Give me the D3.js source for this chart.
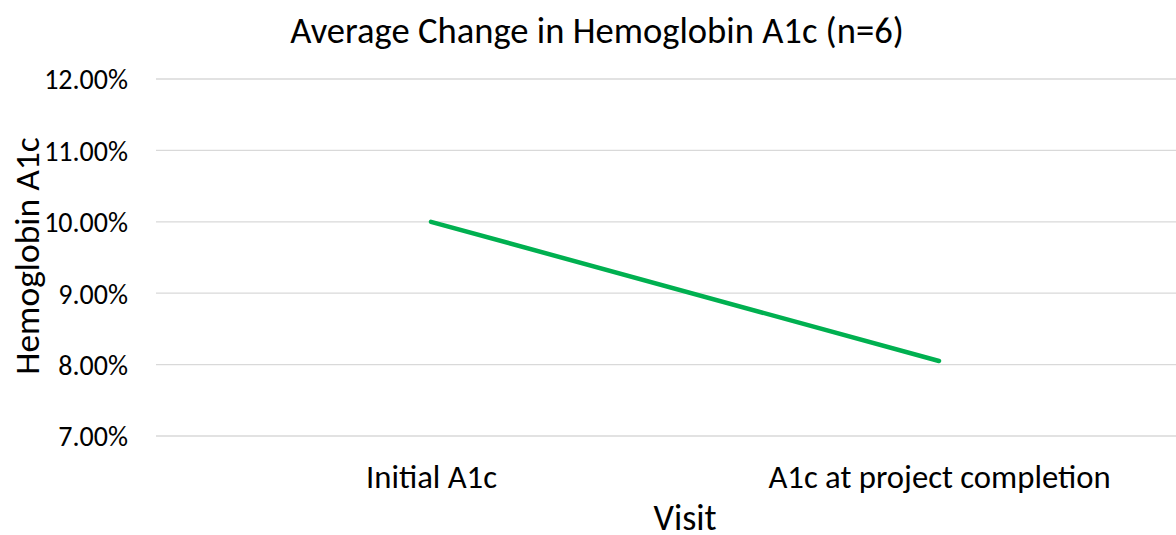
<!DOCTYPE html>
<html>
<head>
<meta charset="utf-8">
<script src="https://cdn.jsdelivr.net/npm/d3@7"></script>
<style>
  body { margin: 0; background: #fff; }
  svg { display: block; }
  text { font-family: Carlito, Lato, "Liberation Sans", sans-serif; fill: #000; }
  .grid line { stroke: #d9d9d9; stroke-width: 1.3; }
</style>
</head>
<body>
<svg id="chart"></svg>
<script>
// Chart data
var categories = ["Initial A1c", "A1c at project completion"];
var values = [10.00, 8.05];
var yTicks = [7, 8, 9, 10, 11, 12];

var width = 1176, height = 535;
var plot = {left: 156, right: 1176, top: 79, bottom: 436};

var svg = d3.select("#chart")
    .attr("width", width)
    .attr("height", height);

// Scales
var x = d3.scalePoint()
    .domain(categories)
    .range([177, 1193])
    .padding(0.5);
var y = d3.scaleLinear()
    .domain([7, 12])
    .range([plot.bottom, plot.top]);

// Gridlines
svg.append("g")
    .attr("class", "grid")
    .selectAll("line")
    .data(yTicks)
    .enter()
    .append("line")
    .attr("x1", plot.left)
    .attr("x2", plot.right)
    .attr("y1", function(d) { return y(d); })
    .attr("y2", function(d) { return y(d); });

// Y axis labels
var y_axis = d3.axisLeft(y)
    .tickValues(yTicks)
    .tickSize(0)
    .tickPadding(0)
    .tickFormat(function(d) { return d.toFixed(2) + "%"; });
var gy = svg.append("g")
    .attr("transform", "translate(128,0)")
    .call(y_axis);
gy.attr("font-family", null);
gy.select(".domain").remove();
gy.selectAll("text").attr("font-size", 28).attr("dy", "0.35em");

// X axis labels
var x_axis = d3.axisBottom(x).tickSize(0).tickPadding(0);
var gx = svg.append("g")
    .attr("transform", "translate(0,488)")
    .call(x_axis);
gx.attr("font-family", null);
gx.select(".domain").remove();
gx.selectAll("text").attr("font-size", 32.7).attr("dy", null);

// Line
var valueline = d3.line()
    .x(function(d, i) { return x(categories[i]); })
    .y(function(d) { return y(d); });
svg.append("path")
    .datum(values)
    .attr("d", valueline)
    .attr("fill", "none")
    .attr("stroke", "#00b050")
    .attr("stroke-width", 4.5)
    .attr("stroke-linecap", "round");

// Title and axis titles
svg.append("text")
    .attr("x", 597)
    .attr("y", 43)
    .attr("text-anchor", "middle")
    .attr("font-size", 36.6)
    .text("Average Change in Hemoglobin A1c (n=6)");
svg.append("text")
    .attr("x", 685)
    .attr("y", 530)
    .attr("text-anchor", "middle")
    .attr("font-size", 36)
    .text("Visit");
svg.append("text")
    .attr("transform", "translate(39,256) rotate(-90)")
    .attr("text-anchor", "middle")
    .attr("font-size", 35.5)
    .text("Hemoglobin A1c");
</script>
</body>
</html>
